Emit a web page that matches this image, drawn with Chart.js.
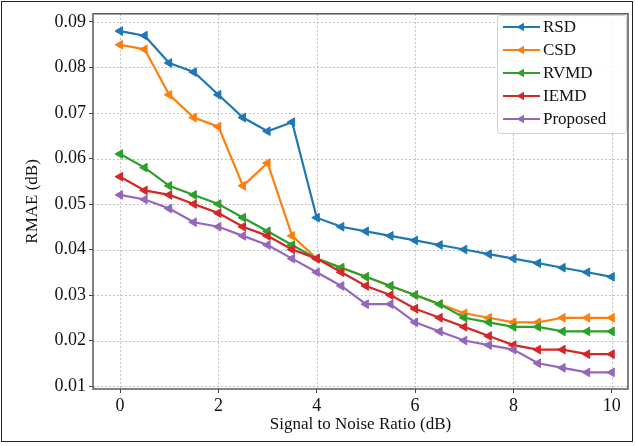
<!DOCTYPE html>
<html>
<head>
<meta charset="utf-8">
<script src="https://cdn.jsdelivr.net/npm/chart.js@4/dist/chart.umd.min.js"></script>
<style>
  html, body { margin: 0; padding: 0; background: #fff; }
  #wrap { position: relative; width: 635px; height: 446px; }
  canvas { display: block; }
</style>
</head>
<body>
<div id="wrap"><canvas id="c" width="635" height="446"></canvas></div>
<script>
const snr = [0, 0.5, 1, 1.5, 2, 2.5, 3, 3.5, 4, 4.5, 5, 5.5, 6, 6.5, 7, 7.5, 8, 8.5, 9, 9.5, 10];
const rsd = [0.088, 0.087, 0.081, 0.079, 0.074, 0.069, 0.066, 0.068, 0.047, 0.045, 0.044, 0.043, 0.042, 0.041, 0.040, 0.039, 0.038, 0.037, 0.036, 0.035, 0.034];
const csd = [0.085, 0.084, 0.074, 0.069, 0.067, 0.054, 0.059, 0.043, 0.038, 0.036, 0.034, 0.032, 0.030, 0.028, 0.026, 0.025, 0.024, 0.024, 0.025, 0.025, 0.025];
const rvmd = [0.061, 0.058, 0.054, 0.052, 0.050, 0.047, 0.044, 0.041, 0.038, 0.036, 0.034, 0.032, 0.030, 0.028, 0.025, 0.024, 0.023, 0.023, 0.022, 0.022, 0.022];
const iemd = [0.056, 0.053, 0.052, 0.050, 0.048, 0.045, 0.043, 0.040, 0.038, 0.035, 0.032, 0.030, 0.027, 0.025, 0.023, 0.021, 0.019, 0.018, 0.018, 0.017, 0.017];
const proposed = [0.052, 0.051, 0.049, 0.046, 0.045, 0.043, 0.041, 0.038, 0.035, 0.032, 0.028, 0.028, 0.024, 0.022, 0.020, 0.019, 0.018, 0.015, 0.014, 0.013, 0.013];

const seriesNames = ['RSD', 'CSD', 'RVMD', 'IEMD', 'Proposed'];
const seriesValues = [rsd, csd, rvmd, iemd, proposed];
const seriesColors = ['#1f77b4', '#ff7f0e', '#2ca02c', '#d62728', '#9467bd'];

const xTicks = [0, 2, 4, 6, 8, 10];
const yTicks = [0.01, 0.02, 0.03, 0.04, 0.05, 0.06, 0.07, 0.08, 0.09];

const FONT = "'Liberation Serif', 'Times New Roman', serif";

const datasets = seriesNames.map((name, i) => ({
  label: name,
  data: snr.map((x, j) => ({ x: x, y: seriesValues[i][j] })),
  borderColor: seriesColors[i],
  backgroundColor: seriesColors[i],
  pointBackgroundColor: seriesColors[i],
  pointBorderColor: seriesColors[i],
  borderWidth: 2.2,
  pointStyle: 'triangle',
  pointRotation: 270,
  pointRadius: 5,
  pointBorderWidth: 1,
  tension: 0,
  order: seriesNames.length - i
}));

const gridPlugin = {
  id: 'dottedGrid',
  beforeDatasetsDraw(chart) {
    const ctx = chart.ctx;
    const a = chart.chartArea;
    const xs = chart.scales.x, ys = chart.scales.y;
    ctx.save();
    ctx.strokeStyle = '#c0c0c0';
    ctx.lineWidth = 1;
    ctx.setLineDash([2, 2]);
    xs.ticks.forEach(t => {
      const px = Math.round(xs.getPixelForValue(t.value)) + 0.5;
      ctx.beginPath(); ctx.moveTo(px, a.top); ctx.lineTo(px, a.bottom); ctx.stroke();
    });
    ys.ticks.forEach(t => {
      const py = Math.round(ys.getPixelForValue(t.value)) + 0.5;
      ctx.beginPath(); ctx.moveTo(a.left, py); ctx.lineTo(a.right, py); ctx.stroke();
    });
    ctx.restore();
  }
};

const framePlugin = {
  id: 'frame',
  afterDraw(chart) {
    const ctx = chart.ctx;
    const a = chart.chartArea;
    ctx.save();
    ctx.strokeStyle = '#5a5a5a';
    ctx.lineWidth = 1.5;
    ctx.strokeRect(a.left, a.top, a.right - a.left, a.bottom - a.top);
    const lx = 497, ly = 15, lw = 129, lh = 118;
    ctx.fillStyle = 'rgba(255,255,255,0.85)';
    ctx.strokeStyle = '#d0d0d0';
    ctx.lineWidth = 1;
    ctx.beginPath();
    if (ctx.roundRect) ctx.roundRect(lx + 0.5, ly + 0.5, lw, lh, 3); else ctx.rect(lx + 0.5, ly + 0.5, lw, lh);
    ctx.fill();
    ctx.stroke();
    ctx.font = "17px " + FONT;
    ctx.textBaseline = 'middle';
    ctx.textAlign = 'left';
    chart.data.datasets.forEach((ds, i) => {
      const y = ly + 12 + i * 23;
      ctx.strokeStyle = ds.borderColor;
      ctx.lineWidth = 2.2;
      ctx.beginPath();
      ctx.moveTo(lx + 6, y);
      ctx.lineTo(lx + 43, y);
      ctx.stroke();
      const cx = lx + 24.5, r = 5;
      ctx.fillStyle = ds.borderColor;
      ctx.beginPath();
      ctx.moveTo(cx - r, y);
      ctx.lineTo(cx + r * 0.5, y - r * 0.87);
      ctx.lineTo(cx + r * 0.5, y + r * 0.87);
      ctx.closePath();
      ctx.fill();
      ctx.fillStyle = '#111';
      ctx.fillText(ds.label, lx + 46, y + 1);
    });
    ctx.strokeStyle = '#222';
    ctx.lineWidth = 1;
    ctx.strokeRect(1.5, 1.5, 631, 440);
    ctx.restore();
  }
};

const gridOpts = {
  drawOnChartArea: false,
  drawTicks: true,
  tickLength: 4,
  tickColor: '#444',
  tickWidth: 1
};

new Chart(document.getElementById('c'), {
  type: 'line',
  data: { datasets: datasets },
  options: {
    responsive: false,
    animation: false,
    devicePixelRatio: 1,
    layout: { padding: { top: 8, right: 7, left: 0, bottom: 0 } },
    plugins: {
      legend: { display: false },
      tooltip: { enabled: false }
    },
    scales: {
      x: {
        type: 'linear',
        min: -0.55,
        max: 10.33,
        afterBuildTicks(scale) { scale.ticks = xTicks.map(v => ({ value: v })); },
        afterFit(scale) { scale.height = 57; },
        ticks: {
          color: '#111',
          font: { family: FONT, size: 18 },
          padding: 2,
          maxRotation: 0,
          callback: v => String(v)
        },
        grid: gridOpts,
        border: { display: false },
        title: {
          display: true,
          text: 'Signal to Noise Ratio (dB)',
          color: '#111',
          font: { family: FONT, size: 17 },
          padding: { top: 0, bottom: 11 }
        }
      },
      y: {
        type: 'linear',
        min: 0.00935,
        max: 0.0918,
        afterBuildTicks(scale) { scale.ticks = yTicks.map(v => ({ value: v })); },
        afterFit(scale) { scale.width = 93; },
        ticks: {
          color: '#111',
          font: { family: FONT, size: 18 },
          padding: 3,
          callback: v => v.toFixed(2)
        },
        grid: gridOpts,
        border: { display: false },
        title: {
          display: true,
          text: 'RMAE (dB)',
          color: '#111',
          font: { family: FONT, size: 17 },
          padding: { top: 22, bottom: 0 }
        }
      }
    }
  },
  plugins: [gridPlugin, framePlugin]
});
</script>
</body>
</html>
